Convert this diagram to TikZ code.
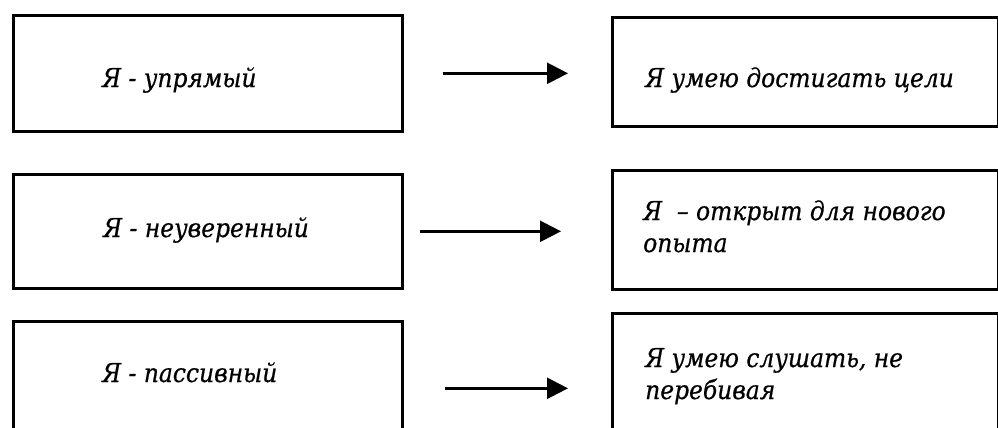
\documentclass[tikz,border=0pt]{standalone}
\usepackage{fontspec}
\newfontfamily\tfont{DejaVu Serif Condensed}[FakeBold=0.6]
\usetikzlibrary{arrows.meta}
\tikzset{
  box/.style={draw=black, line width=2.6pt, rectangle, inner sep=0pt, anchor=north west},
  lbox/.style={box, minimum width=389pt},
  rbox/.style={box, minimum width=386pt},
  txt/.style={inner sep=0pt, anchor=base west, align=left,
    font=\tfont\itshape\fontsize{26}{32}\selectfont},
  arr/.style={draw=black, line width=2.4pt, -{Triangle[length=21pt,width=21pt]}}
}
\begin{document}
\begin{tikzpicture}[x=1pt,y=-1pt]
\useasboundingbox (0,0) rectangle (998,428);
% left boxes
\node[lbox, minimum height=116pt] (L1) at (12,14) {};
\node[lbox, minimum height=114pt] (L2) at (12,173) {};
\node[lbox, minimum height=120pt] (L3) at (12,320) {};
% right boxes
\node[rbox, minimum height=109pt] (R1) at (611,16) {};
\node[rbox, minimum height=119pt] (R2) at (611,169) {};
\node[rbox, minimum height=124pt] (R3) at (611,312) {};
% texts
\node[txt] (tL1) at (102,87) {Я - упрямый};
\node[txt] (tL2) at (103,237) {Я - неуверенный};
\node[txt] (tL3) at (102,382) {Я - пассивный};
\node[txt] (tR1) at (645,87) {Я умею достигать цели};
\node[txt] (tR2) at (643,252) {Я \ – открыт для нового\\опыта};
\node[txt] (tR3) at (645,399) {Я умею слушать, не\\перебивая};
% arrows
\draw[arr, shorten <=39pt, shorten >=43pt] (L1.east) -- (L1.east -| R1.west);
\draw[arr, shorten <=16pt, shorten >=50pt] (L2.east) -- (L2.east -| R2.west);
\draw[arr, shorten <=41pt, shorten >=43pt] ([yshift=-7pt]L3.east) -- ([yshift=-7pt]L3.east -| R3.west);
\end{tikzpicture}
\end{document}
